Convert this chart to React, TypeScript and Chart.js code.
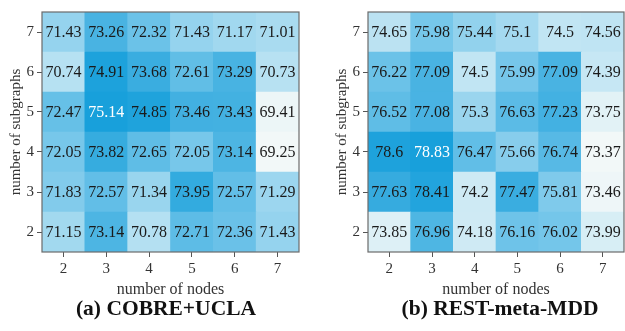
import React, { useEffect, useRef } from "react";
import { Chart, registerables } from "chart.js";
Chart.register(...registerables);

const nodeLabels = ["2", "3", "4", "5", "6", "7"];
const subgraphCounts = [2, 3, 4, 5, 6, 7];

// COBRE+UCLA: one row per number of subgraphs (2..7), columns = nodes 2..7
const cobreRow2 = [71.15, 73.14, 70.78, 72.71, 72.36, 71.43];
const cobreRow3 = [71.83, 72.57, 71.34, 73.95, 72.57, 71.29];
const cobreRow4 = [72.05, 73.82, 72.65, 72.05, 73.14, 69.25];
const cobreRow5 = [72.47, 75.14, 74.85, 73.46, 73.43, 69.41];
const cobreRow6 = [70.74, 74.91, 73.68, 72.61, 73.29, 70.73];
const cobreRow7 = [71.43, 73.26, 72.32, 71.43, 71.17, 71.01];

// REST-meta-MDD
const mddRow2 = [73.85, 76.96, 74.18, 76.16, 76.02, 73.99];
const mddRow3 = [77.63, 78.41, 74.2, 77.47, 75.81, 73.46];
const mddRow4 = [78.6, 78.83, 76.47, 75.66, 76.74, 73.37];
const mddRow5 = [76.52, 77.08, 75.3, 76.63, 77.23, 73.75];
const mddRow6 = [76.22, 77.09, 74.5, 75.99, 77.09, 74.39];
const mddRow7 = [74.65, 75.98, 75.44, 75.1, 74.5, 74.56];

const cobreRows = [cobreRow2, cobreRow3, cobreRow4, cobreRow5, cobreRow6, cobreRow7];
const mddRows = [mddRow2, mddRow3, mddRow4, mddRow5, mddRow6, mddRow7];

const FONT = "'Liberation Serif', 'Times New Roman', serif";

const stops: [number, number[]][] = [
  [0, [242, 248, 248]],
  [0.25, [183, 225, 242]],
  [0.5, [112, 196, 233]],
  [0.75, [58, 173, 224]],
  [1, [24, 160, 219]],
];
function cmap(t: number): string {
  t = Math.max(0, Math.min(1, t));
  for (let i = 1; i < stops.length; i++) {
    if (t <= stops[i][0]) {
      const [t0, c0] = stops[i - 1];
      const [t1, c1] = stops[i];
      const f = (t - t0) / (t1 - t0);
      const c = c0.map((v, k) => Math.round(v + (c1[k] - v) * f));
      return `rgb(${c[0]},${c[1]},${c[2]})`;
    }
  }
  return "rgb(24,160,219)";
}

function makeConfig(rows: number[][], caption: string, captionX: number, yWidth: number, yTitlePad: number, padRight: number): any {
  const all = rows.flat();
  const lo = Math.min(...all);
  const hi = Math.max(...all);
  const norm = (v: number) => (v - lo) / (hi - lo);

  const datasets = rows.map((row, i) => ({
    label: String(subgraphCounts[i]),
    data: row.map(() => [subgraphCounts[i] - 0.5, subgraphCounts[i] + 0.5]),
    values: row,
    backgroundColor: row.map((v) => cmap(norm(v))),
    borderWidth: 0,
    barPercentage: 1,
    categoryPercentage: 1,
    grouped: false,
  }));

  const cellLabels = {
    id: "cellLabels",
    afterDatasetsDraw(chart: any) {
      const ctx = chart.ctx;
      ctx.save();
      ctx.font = `16px ${FONT}`;
      ctx.textAlign = "center";
      ctx.textBaseline = "middle";
      chart.data.datasets.forEach((ds: any, i: number) => {
        const meta = chart.getDatasetMeta(i);
        meta.data.forEach((bar: any, j: number) => {
          const p = bar.getProps(["x", "y", "base"], true);
          const v = ds.values[j];
          ctx.fillStyle = norm(v) > 0.98 ? "#ffffff" : "#1a1a1a";
          ctx.fillText(String(v), p.x, (p.y + p.base) / 2 + 1);
        });
      });
      ctx.restore();
    },
  };

  const frame = {
    id: "frame",
    afterDraw(chart: any) {
      const { left, top, width, height } = chart.chartArea;
      const ctx = chart.ctx;
      ctx.save();
      ctx.strokeStyle = "#6b6b6b";
      ctx.lineWidth = 1.2;
      ctx.strokeRect(left, top, width, height);
      ctx.font = `bold 21.5px ${FONT}`;
      ctx.fillStyle = "#111";
      ctx.textAlign = "center";
      ctx.textBaseline = "middle";
      ctx.fillText(caption, captionX, 309);
      ctx.restore();
    },
  };

  return {
    type: "bar",
    data: { labels: nodeLabels, datasets },
    plugins: [cellLabels, frame],
    options: {
      animation: false,
      responsive: false,
      devicePixelRatio: 1,
      layout: { padding: { top: 4, right: padRight, left: 0, bottom: 32 } },
      plugins: { legend: { display: false }, tooltip: { enabled: false }, title: { display: false } },
      scales: {
        x: {
          type: "category",
          offset: true,
          grid: { display: true, drawOnChartArea: false, drawTicks: true, tickLength: 5, color: "#555", offset: false },
          border: { display: false },
          ticks: { color: "#333", font: { family: FONT, size: 15 }, padding: 3, maxRotation: 0 },
          title: { display: true, text: "number of nodes", color: "#333", font: { family: FONT, size: 16 }, padding: { top: 0, bottom: 0 } },
          afterFit(s: any) { s.height = 47; },
        },
        y: {
          type: "linear",
          min: 1.5,
          max: 7.5,
          afterBuildTicks(s: any) { s.ticks = subgraphCounts.map((v) => ({ value: v })); },
          grid: { display: true, drawOnChartArea: false, drawTicks: true, tickLength: 5, color: "#555" },
          border: { display: false },
          ticks: { color: "#333", font: { family: FONT, size: 15 }, padding: 3, callback: (v: any) => String(v) },
          title: { display: true, text: "number of subgraphs", color: "#333", font: { family: FONT, size: 15 }, padding: { top: yTitlePad, bottom: 0 } },
          afterFit(s: any) { s.width = yWidth; },
        },
      },
    },
  };
}

function Heat(props: { rows: number[][]; caption: string; captionX: number; yWidth: number; yTitlePad: number; padRight: number; left: number; width: number }) {
  const ref = useRef<HTMLCanvasElement>(null);
  useEffect(() => {
    if (!ref.current) return;
    const chart = new Chart(ref.current, makeConfig(props.rows, props.caption, props.captionX, props.yWidth, props.yTitlePad, props.padRight));
    return () => chart.destroy();
  }, []);
  return (
    <canvas
      ref={ref}
      width={props.width}
      height={331}
      style={{ position: "absolute", left: props.left, top: 0, width: props.width, height: 331 }}
    />
  );
}

export default function App() {
  return (
    <div style={{ position: "fixed", left: 0, top: 0, width: 625, height: 331, background: "#fff" }}>
      <Heat rows={cobreRows} caption="(a) COBRE+UCLA" captionX={166} yWidth={42} yTitlePad={7} padRight={11} left={0} width={310} />
      <Heat rows={mddRows} caption="(b) REST-meta-MDD" captionX={190} yWidth={58} yTitlePad={23} padRight={1} left={310} width={315} />
    </div>
  );
}
